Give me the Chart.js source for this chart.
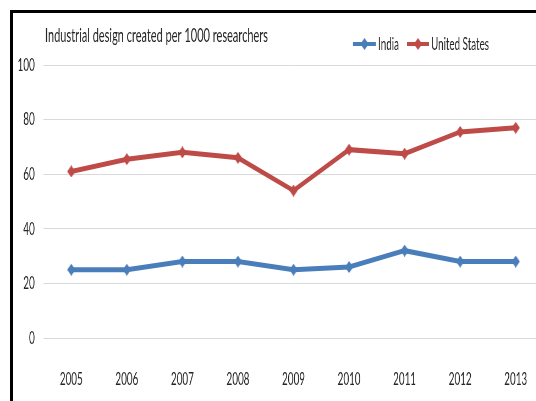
<!DOCTYPE html>
<html>
<head>
<meta charset="utf-8">
<script src="https://cdn.jsdelivr.net/npm/chart.js@4/dist/chart.umd.min.js"></script>
<style>
  html, body { margin: 0; padding: 0; background: #fff; overflow: hidden; width: 536px; height: 401px; }
  #frame { position: absolute; left: 10px; top: 10px; width: 700px; height: 500px;
           border-left: 3px solid #000; border-top: 3px solid #000; }
  #wrap { position: absolute; left: 0; top: 0; height: 401px; transform-origin: 0 0; }
  canvas { display: block; }
</style>
</head>
<body>
<div id="frame"></div>
<div id="wrap"><canvas id="c" height="401"></canvas></div>
<script>
// Industrial designs created per 1000 researchers, 2005-2013
const years = ['2005', '2006', '2007', '2008', '2009', '2010', '2011', '2012', '2013'];
const india = [25, 25, 28, 28, 25, 26, 32, 28, 28];
const unitedStates = [61, 65.5, 68, 66, 54, 69, 67.5, 75.5, 77];
const seriesNames = ['India', 'United States'];
const chartTitle = 'Industrial design created per 1000 researchers';
const yMin = 0, yMax = 100, yStep = 20;

// The chart is drawn wide and squeezed horizontally with CSS,
// which gives the tall, narrow lettering.
const SX = 0.55;
const VIEW_W = 552;                       // on-screen width of the drawing
const CW = Math.round(VIEW_W / SX);       // canvas width before the squeeze
const FONT = "Lato, 'Liberation Sans', sans-serif";
const BLUE = '#4A7EBB';
const RED = '#BE4B48';
const TEXT = '#262626';

const wrap = document.getElementById('wrap');
wrap.style.width = CW + 'px';
wrap.style.transform = 'scaleX(' + SX + ')';
const canvas = document.getElementById('c');
canvas.width = CW;

// plot area in screen pixels
const PLOT_LEFT = 43.5, PLOT_RIGHT = 543.5, PLOT_TOP = 65, PLOT_BOTTOM = 338;

// diamond marker, pre-stretched so it shows 8 x 12 after the squeeze
const MARK_W = 8, MARK_H = 12;
function diamond(color) {
  const c = document.createElement('canvas');
  const w = Math.round(MARK_W / SX), h = MARK_H;
  c.width = w; c.height = h;
  const g = c.getContext('2d');
  g.fillStyle = color;
  g.beginPath();
  g.moveTo(w / 2, 0);
  g.lineTo(w, h / 2);
  g.lineTo(w / 2, h);
  g.lineTo(0, h / 2);
  g.closePath();
  g.fill();
  return c;
}

// Title and legend on one line above the plot
const headerPlugin = {
  id: 'header',
  afterDraw(chart) {
    const ctx = chart.ctx;
    ctx.save();
    ctx.fillStyle = TEXT;
    ctx.textBaseline = 'middle';
    ctx.textAlign = 'left';

    ctx.font = '20px ' + FONT;
    const tw = ctx.measureText(chartTitle).width;
    ctx.save();
    ctx.translate(45 / SX, 36);
    ctx.scale((223 / SX) / tw, 1);
    ctx.fillText(chartTitle, 0, 0);
    ctx.restore();

    const entries = [
      { x0: 353, x1: 376, tx: 378, tw: 21 },
      { x0: 407, x1: 429, tx: 431, tw: 58 }
    ];
    chart.data.datasets.forEach((ds, i) => {
      const e = entries[i];
      const y = 44;
      ctx.strokeStyle = ds.borderColor;
      ctx.lineWidth = 4;
      ctx.beginPath();
      ctx.moveTo(e.x0 / SX, y);
      ctx.lineTo(e.x1 / SX, y);
      ctx.stroke();
      const img = ds.pointStyle;
      const cx = (e.x0 + e.x1) / 2 / SX;
      ctx.drawImage(img, cx - img.width / 2, y - img.height / 2);

      ctx.fillStyle = TEXT;
      ctx.font = '18px ' + FONT;
      const w = ctx.measureText(ds.label).width;
      ctx.save();
      ctx.translate(e.tx / SX, y);
      ctx.scale((e.tw / SX) / w, 1);
      ctx.fillText(ds.label, 0, 0);
      ctx.restore();
    });
    ctx.restore();
  }
};

function lineSeries(label, data, color) {
  return {
    label, data,
    borderColor: color, backgroundColor: color,
    borderWidth: 5, pointStyle: diamond(color), pointRadius: 6,
    tension: 0
  };
}

new Chart(canvas, {
  type: 'line',
  data: {
    labels: years,
    datasets: [
      lineSeries(seriesNames[0], india, BLUE),
      lineSeries(seriesNames[1], unitedStates, RED)
    ]
  },
  options: {
    responsive: false,
    animation: false,
    devicePixelRatio: 1,
    layout: { padding: { top: PLOT_TOP, left: 0, right: CW - PLOT_RIGHT / SX, bottom: 0 } },
    plugins: {
      legend: { display: false },
      title: { display: false },
      tooltip: { enabled: false }
    },
    scales: {
      x: {
        offset: true,
        grid: { display: false, drawTicks: false },
        border: { display: false },
        ticks: { color: TEXT, font: { family: FONT, size: 18 }, padding: 30, maxRotation: 0 },
        afterFit(s) { s.height = 401 - PLOT_BOTTOM; s.paddingLeft = 0; s.paddingRight = 0; }
      },
      y: {
        min: yMin, max: yMax,
        grid: { color: '#d9d9d9', lineWidth: 1, drawTicks: false },
        border: { display: false },
        ticks: { stepSize: yStep, color: TEXT, font: { family: FONT, size: 18 }, padding: 16 },
        afterFit(s) { s.width = PLOT_LEFT / SX; s.paddingTop = 0; s.paddingBottom = 0; }
      }
    }
  },
  plugins: [headerPlugin]
});
</script>
</body>
</html>
